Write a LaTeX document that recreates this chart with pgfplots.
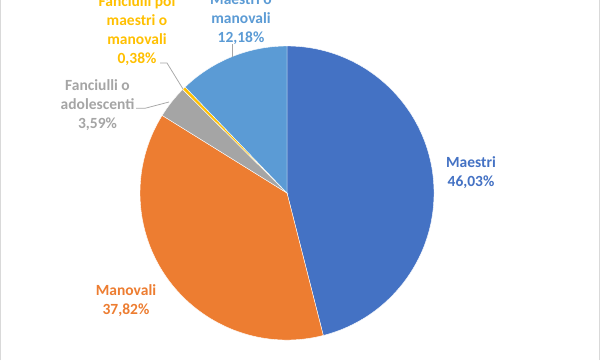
\documentclass[border=0pt]{standalone}
\usepackage{fontspec}
\setmainfont{Carlito}
\usepackage{pgfplots}
\usepackage{pgfplotstable}
\pgfplotsset{compat=1.18}
\definecolor{cA}{HTML}{4472C4}
\definecolor{cB}{HTML}{ED7D31}
\definecolor{cC}{HTML}{A5A5A5}
\definecolor{cD}{HTML}{FFC000}
\definecolor{cE}{HTML}{5B9BD5}
\definecolor{leader}{HTML}{A6A6A6}
\definecolor{frame}{HTML}{D9D9D9}
\pgfplotstableread[col sep=comma]{
name,value
Maestri,46.03
Manovali,37.82
Fanciulli o adolescenti,3.59
Fanciulli poi maestri o manovali,0.38
Maestri o manovali,12.18
}\piedata
\gdef\angStart{90}
\newcommand\pieslice[2]{%
  \pgfplotstablegetelem{#1}{value}\of\piedata
  \pgfmathsetmacro\angEnd{\angStart-3.6*\pgfplotsretval}%
  \edef\tmp{\noexpand\fill[#2,draw=white,line width=0.4pt] (axis cs:287,167) -- ++(\angStart:147pt) arc[start angle=\angStart,end angle=\angEnd,radius=147pt] -- cycle;}%
  \tmp
  \global\let\angStart\angEnd
}
\begin{document}
\begin{tikzpicture}
\useasboundingbox (0,0) rectangle (600pt,360pt);
\clip (0,0) rectangle (600pt,360pt);
\fill[white] (0,0) rectangle (600pt,360pt);
\begin{axis}[
  at={(0,0)}, anchor=south west,
  scale only axis, width=600pt, height=360pt,
  xmin=0, xmax=600, ymin=0, ymax=360,
  hide axis, clip=false,
]
\pieslice{0}{cA}
\pieslice{1}{cB}
\pieslice{2}{cC}
\pieslice{3}{cD}
\pieslice{4}{cE}
\draw[leader,line width=0.75pt] (axis cs:232,303) -- (axis cs:232,316);
\draw[leader,line width=0.75pt] (axis cs:160,297) -- (axis cs:167,297) -- (axis cs:183,271);
\draw[leader,line width=0.75pt] (axis cs:136,251.7) -- (axis cs:145,251.7) -- (axis cs:169,258);
\tikzset{lab/.style={align=center,font=\bfseries\fontsize{15.5}{19}\selectfont,inner sep=0pt}}
\node[lab,text=cA] at (axis cs:471,187.5) {Maestri\\46,03\%};
\node[lab,text=cB] at (axis cs:126,59.5) {Manovali\\37,82\%};
\node[lab,text=cC] at (axis cs:97.5,255) {Fanciulli o\\adolescenti\\3,59\%};
\node[lab,text=cD] at (axis cs:137,329.5) {Fanciulli poi\\maestri o\\manovali\\0,38\%};
\node[lab,text=cE] at (axis cs:241,341.3) {Maestri o\\manovali\\12,18\%};
\draw[frame,line width=1pt] (axis cs:0.5,0) -- (axis cs:0.5,360);
\draw[frame,line width=1pt] (axis cs:599.5,0) -- (axis cs:599.5,360);
\end{axis}
\end{tikzpicture}
\end{document}
